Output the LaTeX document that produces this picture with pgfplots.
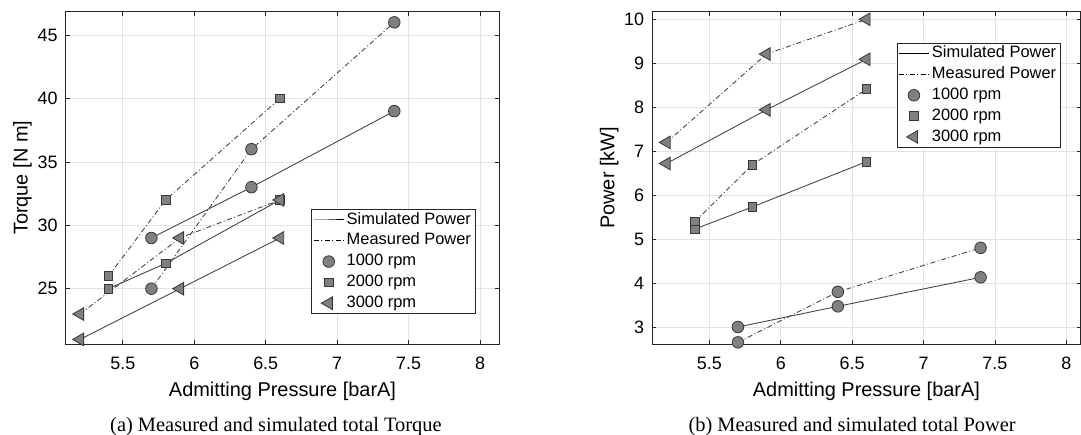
\documentclass[border=0pt]{standalone}
\usepackage{pgfplots}
\pgfplotsset{compat=1.18}
\usepackage{fontspec}
\setmainfont{Liberation Sans}
\newfontfamily\capfont{Liberation Serif}
\definecolor{mkfill}{RGB}{128,128,128}
\definecolor{mkedge}{RGB}{55,55,55}
\definecolor{ln}{RGB}{70,70,70}
\definecolor{gridc}{RGB}{226,226,226}
\definecolor{axc}{RGB}{38,38,38}

\pgfplotsset{
 mystyle/.style={
  scale only axis,
  axis line style={axc, line width=0.9bp},
  grid=major, major grid style={gridc, line width=0.7bp},
  tick style={axc, line width=0.7bp}, major tick length=4bp,
  tick align=inside,
  xtick={5.5,6,6.5,7,7.5,8},
  /pgf/number format/assume math mode=true,
  ticklabel style={font=\fontsize{18}{18}\selectfont},
  xticklabel style={anchor=base, yshift=-26bp, inner sep=0pt},
  yticklabel style={anchor=east, xshift=-8bp, inner sep=0pt},
  label style={font=\fontsize{20}{20}\selectfont},
  xlabel style={at={(axis description cs:0.5,0)}, anchor=base, yshift=-52bp, inner sep=0pt},
  legend cell align=left,
  legend image code/.code={\draw[mark repeat=2,mark phase=2,##1] plot coordinates {(0bp,0bp) (15bp,0bp) (30bp,0bp)};},
  legend style={anchor=north east, draw=axc, line width=0.7bp, fill=white,
     inner xsep=1.5bp, inner ysep=3bp, row sep=5.5bp,
     nodes={inner xsep=2.5bp, inner ysep=0pt, text height=11.8bp, text depth=3.5bp},
     font=\fontsize{16.5}{16.5}\selectfont},
 },
 sim/.style={solid, color=ln, line width=0.9bp},
 meas/.style={color=ln, line width=0.9bp, dash pattern=on 5bp off 2.5bp on 1bp off 2.5bp},
 m1/.style={mark=*, mark size=5.8bp, mark options={solid, fill=mkfill, draw=mkedge, line width=0.8bp}},
 m2/.style={mark=square*, mark size=4.3bp, mark options={solid, fill=mkfill, draw=mkedge, line width=0.8bp}},
 m3/.style={mark=triangle*, mark size=7.3bp, mark options={solid, rotate=90, fill=mkfill, draw=mkedge, line width=0.8bp}},
 legsim/.style={solid, black, line width=1bp},
 legmeas/.style={black, line width=1bp, dash pattern=on 5bp off 2.5bp on 1bp off 2.5bp},
}

\begin{document}
\begin{tikzpicture}
\useasboundingbox (0bp,0bp) rectangle (1081bp,435bp);

% ---------------- (a) Torque ----------------
\begin{axis}[mystyle,
  at={(65.7bp,91bp)}, anchor=south west,
  width=433.6bp, height=332.3bp,
  xmin=5.1, xmax=8.135, ymin=20.64, ymax=46.84,
  ytick={25,30,35,40,45},
  xlabel={Admitting Pressure [barA]},
  ylabel={Torque [N m]},
  ylabel style={at={(axis description cs:-0.0876,0.5)}, anchor=base, inner sep=0pt},
  legend style={at={(axis description cs:0.9447,0.4063)}},
]
\addlegendimage{legsim}\addlegendentry{Simulated Power}
\addlegendimage{legmeas}\addlegendentry{Measured Power}
\addlegendimage{only marks, m1}\addlegendentry{1000 rpm}
\addlegendimage{only marks, m2}\addlegendentry{2000 rpm}
\addlegendimage{only marks, m3}\addlegendentry{3000 rpm}
% 1000 rpm
\addplot[sim, m1, forget plot] coordinates {(5.7,29) (6.4,33) (7.4,39)};
\addplot[meas, m1, forget plot] coordinates {(5.7,25) (6.4,36) (7.4,46)};
% 2000 rpm
\addplot[sim, m2, forget plot] coordinates {(5.4,25) (5.8,27) (6.6,32)};
\addplot[meas, m2, forget plot] coordinates {(5.4,26) (5.8,32) (6.6,40)};
% 3000 rpm
\addplot[sim, m3, forget plot] coordinates {(5.2,21) (5.9,25) (6.6,29)};
\addplot[meas, m3, forget plot] coordinates {(5.2,23) (5.9,29) (6.6,32)};
\end{axis}

% ---------------- (b) Power ----------------
\begin{axis}[mystyle,
  at={(652.3bp,91bp)}, anchor=south west,
  width=428.2bp, height=332.3bp,
  xmin=5.1, xmax=8.1, ymin=2.613, ymax=10.173,
  ytick={3,4,5,6,7,8,9,10},
  xlabel={Admitting Pressure [barA]},
  ylabel={Power [kW]},
  ylabel style={at={(axis description cs:-0.0886,0.5)}, anchor=base, inner sep=0pt},
  legend style={at={(axis description cs:0.9534,0.9067)}},
]
\addlegendimage{legsim}\addlegendentry{Simulated Power}
\addlegendimage{legmeas}\addlegendentry{Measured Power}
\addlegendimage{only marks, m1}\addlegendentry{1000 rpm}
\addlegendimage{only marks, m2}\addlegendentry{2000 rpm}
\addlegendimage{only marks, m3}\addlegendentry{3000 rpm}
% 1000 rpm
\addplot[sim, m1, forget plot] coordinates {(5.7,3.0) (6.4,3.47) (7.4,4.13)};
\addplot[meas, m1, forget plot] coordinates {(5.7,2.65) (6.4,3.8) (7.4,4.8)};
% 2000 rpm
\addplot[sim, m2, forget plot] coordinates {(5.4,5.23) (5.8,5.73) (6.6,6.76)};
\addplot[meas, m2, forget plot] coordinates {(5.4,5.4) (5.8,6.69) (6.6,8.41)};
% 3000 rpm
\addplot[sim, m3, forget plot] coordinates {(5.2,6.72) (5.9,7.94) (6.6,9.09)};
\addplot[meas, m3, forget plot] coordinates {(5.2,7.2) (5.9,9.21) (6.6,10.0)};
\end{axis}

\node[font=\capfont\fontsize{20.5}{20.5}\selectfont, anchor=base west, inner sep=0pt] at (110bp,3.3bp) {(a) Measured and simulated total Torque};
\node[font=\capfont\fontsize{20.5}{20.5}\selectfont, anchor=base west, inner sep=0pt] at (688.3bp,3.3bp) {(b) Measured and simulated total Power};
\end{tikzpicture}
\end{document}
